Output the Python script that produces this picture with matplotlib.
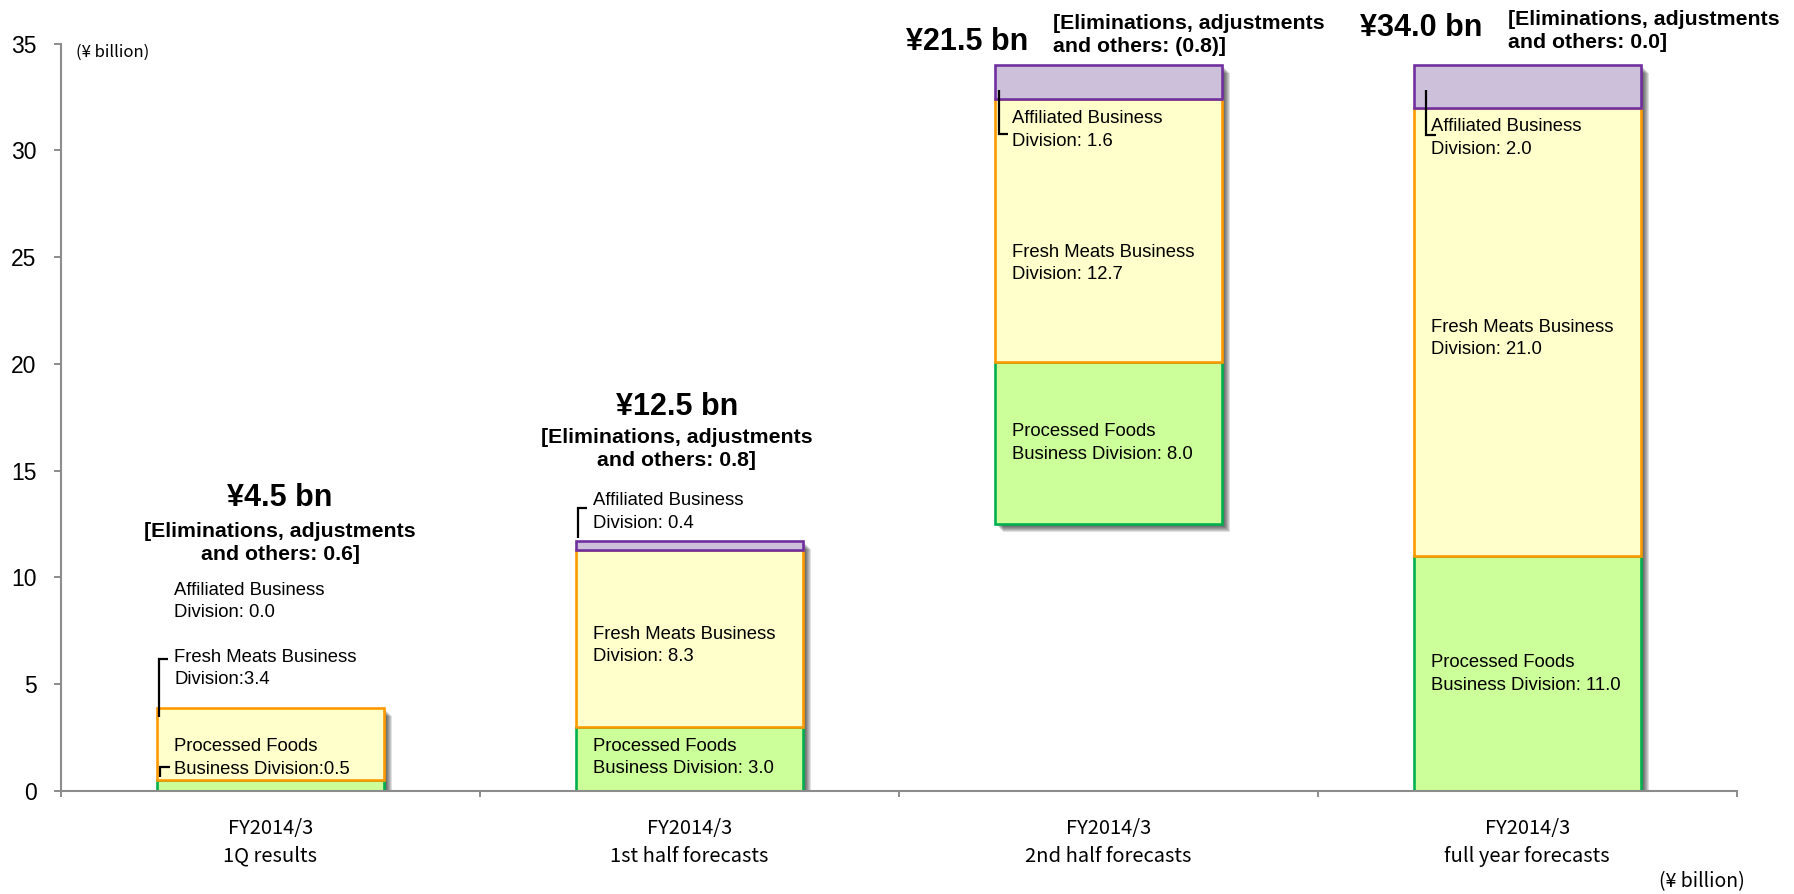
import matplotlib
matplotlib.use("Agg")
import matplotlib.pyplot as plt
import matplotlib.patheffects as pe
from matplotlib.patches import Rectangle
from matplotlib.ticker import FixedLocator, NullFormatter

# ---- data (¥ billion) ----
periods = ["FY2014/3", "FY2014/3", "FY2014/3", "FY2014/3"]
period_notes = ["1Q results", "1st half forecasts", "2nd half forecasts", "full year forecasts"]
processed = [0.5, 3.0, 8.0, 11.0]
fresh_meats = [3.4, 8.3, 12.7, 21.0]
affiliated = [0.0, 0.4, 1.6, 2.0]
eliminations = [0.6, 0.8, -0.8, 0.0]
totals = [4.5, 12.5, 21.5, 34.0]
bar_base = [0.0, 0.0, 12.5, 0.0]
colon = [":", ": ", ": ", ": "]

# ---- style ----
GREEN_FACE, GREEN_EDGE = "#CCFF99", "#00B050"
YELLOW_FACE, YELLOW_EDGE = "#FFFFCC", "#FF9900"
PURPLE_FACE, PURPLE_EDGE = "#CCC0DA", "#7030A0"
AXIS_GRAY = "#8C8C8C"
SANS = ["Liberation Sans", "DejaVu Sans"]
JP = ["Noto Sans CJK JP", "DejaVu Sans"]

W, H, DPI = 1794, 894, 100
fig = plt.figure(figsize=(W / DPI, H / DPI), dpi=DPI)
ax = fig.add_axes([60.7 / W, (H - 791) / H, (1736.7 - 60.7) / W, (791 - 43.5) / H])
ax.set_xlim(-0.5, 3.5)
ax.set_ylim(0, 35)

bar_w = 0.541
px = 1.0 / 419.0  # one pixel in x data units

# soft drop shadow built from stacked offset copies
shadow_fx = [pe.SimplePatchShadow(offset=(k * 0.72, -k * 0.72), shadow_rgbFace="black", alpha=0.12)
             for k in range(1, 9)]

for i in range(4):
    left = i - bar_w / 2
    net = min(eliminations[i], 0.0) / 2.0
    p_h = processed[i] + net
    f_h = fresh_meats[i] + net
    a_h = affiliated[i]
    base = bar_base[i]
    top = base + p_h + f_h + a_h

    sh = Rectangle((left, base), bar_w, top - base, facecolor="none", edgecolor="none",
                   zorder=1, path_effects=shadow_fx)
    ax.add_patch(sh)

    y = base
    for h, fc, ec in [(p_h, GREEN_FACE, GREEN_EDGE), (f_h, YELLOW_FACE, YELLOW_EDGE),
                      (a_h, PURPLE_FACE, PURPLE_EDGE)]:
        if h > 0:
            ax.add_patch(Rectangle((left, y), bar_w, h, facecolor=fc, edgecolor=ec,
                                   linewidth=1.9, zorder=2, joinstyle="miter"))
        y += h

# ---- segment labels ----
label_x_off = 17.5 * px
label_y = {
    "aff": [8.88, 13.07, 30.96, 30.57],
    "fresh": [5.74, 6.81, 24.7, 21.19],
    "proc": [1.54, 1.58, 16.3, 5.48],
}
LS = 1.42
for i in range(4):
    lx = i - bar_w / 2 + label_x_off
    ax.text(lx, label_y["aff"][i], f"Affiliated Business\nDivision: {affiliated[i]:.1f}",
            ha="left", va="center", fontsize=13.3, family=SANS, linespacing=LS, zorder=5)
    ax.text(lx, label_y["fresh"][i], f"Fresh Meats Business\nDivision{colon[i]}{fresh_meats[i]:.1f}",
            ha="left", va="center", fontsize=13.3, family=SANS, linespacing=LS, zorder=5)
    ax.text(lx, label_y["proc"][i], f"Processed Foods\nBusiness Division{colon[i]}{processed[i]:.1f}",
            ha="left", va="center", fontsize=13.3, family=SANS, linespacing=LS, zorder=5)

# ---- leader brackets (bar index, x offset px, y from, y to, foot px) ----
brackets = [
    (0, 2.6, 3.47, 6.20, 9.0),
    (0, 3.3, 0.67, 1.14, 10.0),
    (1, 2.3, 11.84, 13.24, 9.3),
    (2, 4.0, 32.83, 30.76, 9.3),
    (3, 12.4, 32.83, 30.73, 10.0),
]
for i, xo, y0, y1, foot in brackets:
    bx = i - bar_w / 2 + xo * px
    ax.plot([bx, bx, bx + foot * px], [y0, y1, y1], color="black", lw=1.6,
            solid_joinstyle="miter", solid_capstyle="butt", zorder=6, clip_on=False)

# ---- totals and eliminations ----
def elim_text(v):
    s = f"({abs(v):.1f})" if v < 0 else f"{v:.1f}"
    return f"[Eliminations, adjustments\nand others: {s}]"

head = [  # (total x, total y, elim x, elim y, elim align)
    (0 + 9 * px, 13.74, 0 + 10 * px, 11.6, "center"),
    (1 - 12.5 * px, 18.0, 1 - 12.5 * px, 16.0, "center"),
    (1.664, 35.07, 1.869, 35.41, "left"),
    (2.748, 35.72, 2.955, 35.6, "left"),
]
for i, (tx, ty, ex, ey, ea) in enumerate(head):
    ax.text(tx, ty, f"¥{totals[i]:.1f} bn", ha="center", va="center", fontsize=22,
            fontweight="bold", family=SANS, clip_on=False, zorder=5)
    ax.text(ex, ey, elim_text(eliminations[i]), ha=ea, va="center", fontsize=15.3,
            fontweight="bold", family=SANS, linespacing=1.28, multialignment="center" if ea == "center" else "left",
            clip_on=False, zorder=5)

# ---- axes ----
for s in ["top", "right"]:
    ax.spines[s].set_visible(False)
for s in ["left", "bottom"]:
    ax.spines[s].set_color(AXIS_GRAY)
    ax.spines[s].set_linewidth(1.5)

ax.set_yticks(range(0, 36, 5))
ax.tick_params(axis="y", direction="out", length=5, width=1.4, color=AXIS_GRAY,
               pad=12.5, labelsize=16.5)
for t in ax.get_yticklabels():
    t.set_family(SANS)

ax.set_xticks([])
ax.xaxis.set_minor_locator(FixedLocator([-0.5, 0.5, 1.5, 2.5, 3.5]))
ax.xaxis.set_minor_formatter(NullFormatter())
ax.tick_params(axis="x", which="minor", direction="out", length=4.3, width=1.4, color=AXIS_GRAY)

for i in range(4):
    ax.annotate(periods[i], xy=(i, 0), xycoords=("data", "axes fraction"), xytext=(0, -27),
                textcoords="offset points", ha="center", va="center", fontsize=14.5, family=JP)
    ax.annotate(period_notes[i], xy=(i, 0), xycoords=("data", "axes fraction"), xytext=(0, -47),
                textcoords="offset points", ha="center", va="center", fontsize=14.5, family=JP)

ax.text(-0.5 + 15.5 * px, 34.6, "(¥ billion)", ha="left", va="center", fontsize=12, family=JP)
fig.text(1745 / W, (H - 881.7) / H, "(¥ billion)", ha="right", va="center", fontsize=14, family=JP)

fig.savefig("out.png", dpi=DPI, facecolor="white")
